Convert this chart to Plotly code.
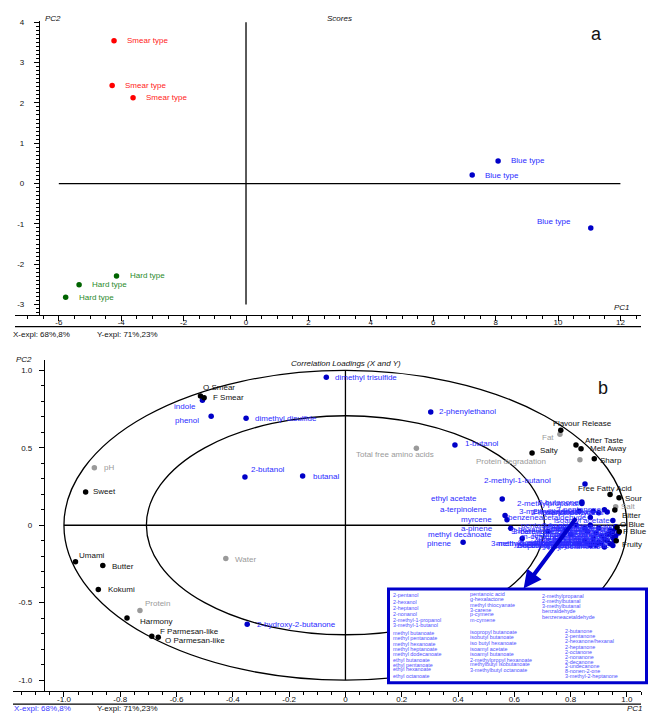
import plotly.graph_objects as go

W, H = 651, 713
FONT = "Liberation Sans, Arial, sans-serif"

# ---------------- (a) Scores ----------------
smear_x = [-4.23, -4.29, -3.62]
smear_y = [3.54, 2.43, 2.13]
hard_x = [-4.15, -5.35, -5.78]
hard_y = [-2.29, -2.51, -2.82]
blue_x = [8.08, 7.25, 11.05]
blue_y = [0.56, 0.21, -1.10]
smear_label = "Smear type"
hard_label = "Hard type"
blue_label = "Blue type"

top_xticks = [-6, -4, -2, 0, 2, 4, 6, 8, 10, 12]
top_yticks = [-3, -2, -1, 0, 1, 2, 3, 4]

# ---------------- (b) Correlation loadings ----------------
sens_names = ["O Smear", "F Smear", "Sweet", "Umami", "Butter", "Kokumi", "Harmony",
              "F Parmesan-like", "O Parmesan-like", "Flavour Release", "After Taste",
              "Melt Away", "Salty", "Sharp", "Free Fatty Acid", "Sour", "Bitter",
              "O Blue", "F Blue", "Fruity"]
sens_x = [-0.515, -0.502, -0.923, -0.959, -0.862, -0.878, -0.776, -0.688, -0.665,
          0.765, 0.819, 0.837, 0.663, 0.884, 0.940, 0.972, 0.957, 0.965, 0.973, 0.962]
sens_y = [0.835, 0.824, 0.215, -0.235, -0.260, -0.415, -0.599, -0.717, -0.723,
          0.614, 0.518, 0.494, 0.466, 0.430, 0.198, 0.177, 0.098, -0.015, -0.040, -0.100]

other_names = ["pH", "Total free amino acids", "Fat", "Protein degradation", "Salt",
               "Water", "Protein"]
other_x = [-0.892, 0.252, 0.762, 0.833, 0.960, -0.425, -0.730]
other_y = [0.372, 0.498, 0.588, 0.423, 0.119, -0.215, -0.550]

vol_names = ["dimethyl trisulfide", "indole", "phenol", "dimethyl disulfide", "2-butanol",
             "butanal", "2-phenylethanol", "1-butanol", "2-methyl-1-butanol", "ethyl acetate",
             "a-terpinolene", "myrcene", "a-pinene", "methyl decanoate", "pinene",
             "2-hydroxy-2-butanone"]
vol_x = [-0.068, -0.508, -0.477, -0.353, -0.357, -0.152, 0.303, 0.389, 0.851, 0.557,
         0.567, 0.574, 0.587, 0.628, 0.418, -0.349]
vol_y = [0.955, 0.807, 0.704, 0.691, 0.312, 0.318, 0.732, 0.518, 0.267, 0.170,
         0.063, 0.035, -0.020, -0.085, -0.110, -0.640]

cluster_names = ["2-methylpropanal", "2-methylbutanal", "3-methylbutanal", "benzaldehyde",
                 "benzeneacetaldehyde", "2-butanone", "2-pentanone", "2-hexanone/hexanal",
                 "2-heptanone", "2-octanone", "2-nonanone", "2-decanone", "2-undecanone",
                 "8-nonen-2-one", "3-methyl-2-heptanone", "pentanoic acid", "g-hexalactone",
                 "methyl thiocyanate", "3-carene", "p-cymene", "m-cymene", "2-pentanol",
                 "2-hexanol", "2-heptanol", "2-nonanol", "2-methyl-1-propanol",
                 "3-methyl-1-butanol", "methyl butanoate", "methyl pentanoate",
                 "methyl hexanoate", "methyl heptanoate", "methyl dodecanoate",
                 "ethyl butanoate", "ethyl pentanoate", "ethyl hexanoate", "ethyl octanoate",
                 "isopropyl butanoate", "isobutyl butanoate", "iso butyl hexanoate",
                 "isoamyl acetate", "isoamyl butanoate", "2-methylpropyl hexanoate",
                 "methylbutyl isobutanoate", "3-methylbutyl octanoate"]
cluster_x = [0.84, 0.88, 0.83, 0.90, 0.87, 0.84, 0.92, 0.93, 0.87, 0.90, 0.94, 0.93, 0.88,
             0.95, 0.91, 0.82, 0.78, 0.86, 0.72, 0.80, 0.77, 0.85, 0.89, 0.91, 0.85, 0.88,
             0.92, 0.96, 0.95, 0.94, 0.93, 0.89, 0.97, 0.96, 0.955, 0.92, 0.87, 0.90, 0.94,
             0.95, 0.96, 0.95, 0.86, 0.83]
cluster_y = [0.14, 0.09, 0.09, 0.08, 0.05, 0.15, 0.10, 0.085, 0.00, -0.02, -0.03, -0.06,
             -0.08, -0.08, -0.12, 0.00, -0.03, -0.04, -0.04, -0.06, -0.07, -0.02, -0.05,
             -0.07, -0.10, -0.11, -0.09, -0.02, -0.04, -0.06, -0.10, -0.13, -0.05, -0.07,
             -0.10, -0.14, -0.13, -0.11, -0.12, 0.03, -0.01, -0.13, -0.12, -0.12]

box_col1 = ["2-pentanol", "2-hexanol", "2-heptanol", "2-nonanol", "2-methyl-1-propanol",
            "3-methyl-1-butanol", "methyl butanoate", "methyl pentanoate", "methyl hexanoate",
            "methyl heptanoate", "methyl dodecanoate", "ethyl butanoate", "ethyl pentanoate",
            "ethyl hexanoate", "ethyl octanoate"]
box_col2 = ["pentanoic acid", "g-hexalactone", "methyl thiocyanate", "3-carene", "p-cymene",
            "m-cymene", "isopropyl butanoate", "isobutyl butanoate", "iso butyl hexanoate",
            "isoamyl acetate", "isoamyl butanoate", "2-methylpropyl hexanoate",
            "methylbutyl isobutanoate", "3-methylbutyl octanoate"]
box_col3 = ["2-methylpropanal", "2-methylbutanal", "3-methylbutanal", "benzaldehyde",
            "benzeneacetaldehyde"]
box_col4 = ["2-butanone", "2-pentanone", "2-hexanone/hexanal", "2-heptanone", "2-octanone",
            "2-nonanone", "2-decanone", "2-undecanone", "8-nonen-2-one", "3-methyl-2-heptanone"]

bot_ticks = [-1.0, -0.8, -0.6, -0.4, -0.2, 0.0, 0.2, 0.4, 0.6, 0.8, 1.0]
bot_tick_text = ["-1.0", "-0.8", "-0.6", "-0.4", "-0.2", "0", "0.2", "0.4", "0.6", "0.8", "1.0"]
bot_yticks = [-1.0, -0.5, 0.0, 0.5, 1.0]
bot_ytick_text = ["-1.0", "-0.5", "0", "0.5", "1.0"]

# ---------------- styles ----------------
RED_DOT, RED_TXT = "#ff0000", "#ff2222"
GRN_DOT, GRN_TXT = "#006400", "#2a8a2a"
BLU_DOT, BLU_TXT = "#0000c8", "#2b2bff"
GRY = "#9a9a9a"
BOX_TXT = "#5050ff"
BOX_LINE = "#0000cc"

# label placement (xanchor, xshift px, yshift px)
place = {
    "O Smear": ("left", 3, 8), "F Smear": ("left", 9, 0), "Sweet": ("left", 7, 0),
    "Umami": ("left", 4, 6), "Butter": ("left", 9, -1), "Kokumi": ("left", 10, 0),
    "Harmony": ("left", 13, -3), "F Parmesan-like": ("left", 8, 5),
    "O Parmesan-like": ("left", 7, -3), "Flavour Release": ("left", -8, 7),
    "After Taste": ("left", 9, 5), "Melt Away": ("left", 9, 0), "Salty": ("left", 8, 3),
    "Sharp": ("left", 6, -2), "Free Fatty Acid": ("left", -32, 6), "Sour": ("left", 6, -1),
    "Bitter": ("left", 7, -5), "O Blue": ("left", 3, 3), "F Blue": ("left", 4, 0),
    "Fruity": ("left", 6, -4),
    "pH": ("left", 10, 0), "Total free amino acids": ("right", 18, -6),
    "Fat": ("right", -6, -3), "Protein degradation": ("right", -34, -2),
    "Salt": ("left", 5, 0), "Water": ("left", 9, -1), "Protein": ("left", 5, 7),
    "dimethyl trisulfide": ("left", 9, 0), "indole": ("right", -6, -6),
    "phenol": ("right", -12, -4), "dimethyl disulfide": ("left", 9, 0),
    "2-butanol": ("left", 6, 7), "butanal": ("left", 10, 0), "2-phenylethanol": ("left", 8, 0),
    "1-butanol": ("left", 10, 2), "2-methyl-1-butanol": ("right", -34, 3),
    "ethyl acetate": ("right", -25, 0), "a-terpinolene": ("right", -18, 6),
    "myrcene": ("right", -15, 0), "a-pinene": ("right", -18, 0),
    "methyl decanoate": ("right", -30, 4), "pinene": ("right", -11, -1),
    "2-hydroxy-2-butanone": ("left", 10, 0),
}

def px(x):
    return x / W

def py(y):
    return 1 - y / H

fig = go.Figure()
annotations = []

def add_points(xs, ys, color, xa, ya, size=5.5):
    fig.add_trace(go.Scatter(x=xs, y=ys, mode="markers", xaxis=xa, yaxis=ya,
                             marker=dict(color=color, size=size), hoverinfo="skip",
                             showlegend=False))

def label(x, y, text, color, xa, ya, anchor="left", xs=8, ys=0, size=8):
    annotations.append(dict(x=x, y=y, xref=xa, yref=ya, text=text, showarrow=False,
                            xanchor=anchor, yanchor="middle", xshift=xs, yshift=ys,
                            borderpad=0, borderwidth=0,
                            font=dict(size=size, color=color, family=FONT)))

# ---- top panel points
add_points(smear_x, smear_y, RED_DOT, "x", "y")
add_points(hard_x, hard_y, GRN_DOT, "x", "y")
add_points(blue_x, blue_y, BLU_DOT, "x", "y")
for x, y in zip(smear_x, smear_y):
    label(x, y, smear_label, RED_TXT, "x", "y", "left", 13, 0)
for x, y in zip(hard_x, hard_y):
    label(x, y, hard_label, GRN_TXT, "x", "y", "left", 13, 0)
blue_place = [("left", 13, 0), ("left", 13, 0), ("right", -20, 6)]
for (x, y), (a, sx, sy) in zip(zip(blue_x, blue_y), blue_place):
    label(x, y, blue_label, BLU_TXT, "x", "y", a, sx, sy)

# ---- bottom panel points
add_points(other_x, other_y, GRY, "x2", "y2")
add_points(cluster_x, cluster_y, BLU_DOT, "x2", "y2")
add_points(vol_x, vol_y, BLU_DOT, "x2", "y2")
add_points(sens_x, sens_y, "#000000", "x2", "y2")

for n, x, y in zip(cluster_names, cluster_x, cluster_y):
    label(x, y, n, BLU_TXT, "x2", "y2", "right", -3, 0)
for n, x, y in zip(vol_names, vol_x, vol_y):
    a, sx, sy = place.get(n, ("left", 8, 0))
    label(x, y, n, BLU_TXT, "x2", "y2", a, sx, sy)
for n, x, y in zip(other_names, other_x, other_y):
    a, sx, sy = place.get(n, ("left", 8, 0))
    label(x, y, n, GRY, "x2", "y2", a, sx, sy)
for n, x, y in zip(sens_names, sens_x, sens_y):
    a, sx, sy = place.get(n, ("left", 8, 0))
    label(x, y, n, "#111111", "x2", "y2", a, sx, sy)

# ---- arrow to box
annotations.append(dict(x=0.633, y=-0.408, xref="x2", yref="y2", ax=0.823, ay=0.055,
                        axref="x2", ayref="y2", text="", showarrow=True, arrowhead=2,
                        arrowsize=0.9, arrowwidth=4, arrowcolor=BOX_LINE, standoff=0,
                        startstandoff=0))

# ---- box text
col_specs = [
    (box_col1, 393, [594.3, 601.5, 607.7, 613.3, 619.7, 624.7, 632.7, 637.7, 644, 649, 654,
                     659.7, 664.7, 669.3, 675.5]),
    (box_col2, 470, [593.5, 599, 604.7, 609.3, 613.7, 620, 632, 636.7, 643, 648.7, 654,
                     659.7, 663.7, 670]),
    (box_col3, 542, [595.5, 600.5, 605.5, 610.5, 616.5]),
    (box_col4, 564.5, [631, 636, 640.7, 647, 651.7, 656.7, 661.7, 666, 671, 676]),
]
for names, x0, ys in col_specs:
    for n, yy in zip(names, ys):
        annotations.append(dict(x=px(x0), y=py(yy), xref="paper", yref="paper", text=n,
                                showarrow=False, xanchor="left", yanchor="middle",
                                borderpad=0, borderwidth=0,
                                font=dict(size=5.4, color=BOX_TXT, family=FONT)))

# ---- titles / misc text
def ptext(x, y, t, size=8, color="#111111", anchor="left", italic=False):
    txt = "<i>%s</i>" % t if italic else t
    annotations.append(dict(x=px(x), y=py(y), xref="paper", yref="paper", text=txt,
                            showarrow=False, xanchor=anchor, yanchor="middle",
                            borderpad=0, borderwidth=0,
                            font=dict(size=size, color=color, family=FONT)))

ptext(45, 16, "PC2", italic=True)
ptext(327, 16, "Scores", italic=True)
ptext(596, 31, "a", size=18, anchor="center")
ptext(614, 306, "PC1", italic=True)
ptext(13, 333, "X-expl: 68%,8%")
ptext(97, 333, "Y-expl: 71%,23%")
ptext(16, 358, "PC2", italic=True)
ptext(346, 362, "Correlation Loadings (X and Y)", italic=True, anchor="center")
ptext(603, 387, "b", size=18, anchor="center")
ptext(627, 708.5, "PC1", italic=True)
ptext(14, 708.5, "X-expl: 68%,8%", color="#3a3aff")
ptext(97, 708.5, "Y-expl: 71%,23%")

# ---- shapes
shapes = []
LW = 1.3
# top zero cross
shapes.append(dict(type="line", xref="x", yref="y", x0=-6, x1=12, y0=0, y1=0,
                   line=dict(color="black", width=LW), layer="below"))
shapes.append(dict(type="line", xref="x", yref="y", x0=0, x1=0, y0=-3, y1=4,
                   line=dict(color="black", width=LW), layer="below"))
# bottom zero cross
shapes.append(dict(type="line", xref="x2", yref="y2", x0=-1, x1=1, y0=0, y1=0,
                   line=dict(color="black", width=LW), layer="below"))
shapes.append(dict(type="line", xref="x2", yref="y2", x0=0, x1=0, y0=-1, y1=1,
                   line=dict(color="black", width=LW), layer="below"))
# correlation ellipses (r = 1 and r = sqrt(0.5))
r_in = 0.5 ** 0.5
for r in (1.0, r_in):
    shapes.append(dict(type="circle", xref="x2", yref="y2", x0=-r, x1=r, y0=-r, y1=r,
                       line=dict(color="black", width=LW), layer="below"))
# frame lines beneath axes
shapes.append(dict(type="line", xref="paper", yref="paper", x0=px(15), x1=px(641),
                   y0=py(325), y1=py(325), line=dict(color="black", width=LW)))
shapes.append(dict(type="line", xref="paper", yref="paper", x0=px(13), x1=px(641),
                   y0=py(704), y1=py(704), line=dict(color="black", width=LW)))
# legend box for the cluster
shapes.append(dict(type="rect", xref="paper", yref="paper", x0=px(388.5), x1=px(646.5),
                   y0=py(682.5), y1=py(588.5), line=dict(color=BOX_LINE, width=3),
                   fillcolor="white", layer="above"))

axis_common = dict(showline=True, linecolor="black", linewidth=LW, ticks="outside",
                   ticklen=5, tickwidth=1, tickcolor="black", showgrid=False,
                   zeroline=False, tickmode="array", fixedrange=True,
                   tickfont=dict(size=8, color="#111111", family=FONT))

fig.update_layout(
    width=W, height=H,
    margin=dict(l=0, r=0, t=0, b=0),
    paper_bgcolor="white", plot_bgcolor="white",
    showlegend=False,
    font=dict(family=FONT),
    xaxis=dict(domain=[px(15), px(641)], range=[-7.404, 12.66], anchor="y",
               tickvals=top_xticks, ticktext=[str(v) for v in top_xticks],
               ticklabelstandoff=-5,
               minor=dict(tickmode="linear", tick0=0, dtick=0.5, ticklen=3,
                          ticks="outside", tickcolor="black"),
               **axis_common),
    yaxis=dict(domain=[py(313), py(18)], range=[-3.252, 4.032], anchor="free",
               position=px(39), tickvals=top_yticks, ticktext=[str(v) for v in top_yticks],
               ticklabelstandoff=8,
               minor=dict(tickmode="linear", tick0=0, dtick=0.1, ticklen=3,
                          ticks="outside", tickcolor="black"),
               **axis_common),
    xaxis2=dict(domain=[px(13), px(641)], range=[-1.181, 1.050], anchor="y2",
                tickvals=bot_ticks, ticktext=bot_tick_text,
                ticklabelstandoff=-5,
                minor=dict(tickmode="linear", tick0=0, dtick=0.05, ticklen=3,
                           ticks="outside", tickcolor="black"),
                **axis_common),
    yaxis2=dict(domain=[py(690.7), py(359)], range=[-1.069, 1.064], anchor="free",
                position=px(44), tickvals=bot_yticks, ticktext=bot_ytick_text,
                ticklabelstandoff=5,
                minor=dict(tickmode="linear", tick0=0, dtick=0.1, ticklen=3,
                           ticks="outside", tickcolor="black"),
                **axis_common),
    shapes=shapes,
    annotations=annotations,
)

fig.write_html("out.html", post_script="document.body.style.margin='0px';",
               config={"displayModeBar": False})
